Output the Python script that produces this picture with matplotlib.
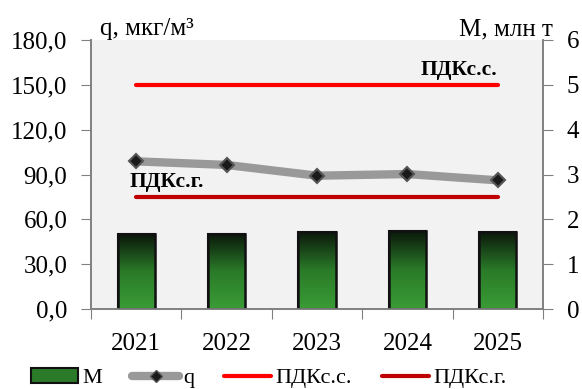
import matplotlib
matplotlib.use("Agg")
import matplotlib.pyplot as plt
import numpy as np
from matplotlib.lines import Line2D
from matplotlib.patches import Patch
from matplotlib.colors import LinearSegmentedColormap

years = ["2021", "2022", "2023", "2024", "2025"]
M_values = [1.67, 1.68, 1.72, 1.74, 1.72]
q_values = [98.8, 96.4, 89.2, 90.3, 86.1]
pdk_ss = [150.0] * 5
pdk_sg = [75.0] * 5
left_ticks = [0, 30, 60, 90, 120, 150, 180]
right_ticks = [0, 1, 2, 3, 4, 5, 6]

plt.rcParams['font.family'] = ['Liberation Serif', 'DejaVu Serif']

fig = plt.figure(figsize=(5.82, 3.89), dpi=100)
ax = fig.add_axes([91/582, 1-309/389, (543-91)/582, (309-40)/389])
ax2 = ax.twinx()
ax.set_zorder(2)
ax.patch.set_visible(False)
ax2.set_zorder(1)
ax2.patch.set_facecolor('#F2F2F2')
ax2.patch.set_visible(True)

x = np.arange(len(years))

bars = ax2.bar(x, M_values, width=0.41, color='#2a7a2a', edgecolor='#111111', linewidth=1.5, zorder=2)
cmap = LinearSegmentedColormap.from_list('g', ['#3a9c35', '#2a7a28', '#0a160a'])
grad = np.linspace(0, 1, 256).reshape(-1, 1)
for b in bars:
    x0, y0 = b.get_x(), b.get_y()
    w, h = b.get_width(), b.get_height()
    im = ax2.imshow(grad, cmap=cmap, aspect='auto', origin='lower',
                    extent=[x0, x0 + w, y0, y0 + h], zorder=2.5)
    im.set_clip_path(b)
    ax2.bar(x0 + w/2, h, width=w, fill=False, edgecolor='#111111', linewidth=1.8, zorder=3)

ax.plot(x, pdk_ss, color='#FF0000', linewidth=3, solid_capstyle='round', zorder=3)
ax.plot(x, pdk_sg, color='#C00000', linewidth=3, solid_capstyle='round', zorder=3)
ax.plot(x, q_values, color='#999999', linewidth=6, solid_capstyle='round', zorder=4,
        marker='D', markersize=7, markerfacecolor='#1a1a1a', markeredgecolor='#555555', markeredgewidth=1.5)

ax.text(4, 150 + 3.5, 'ПДКс.с.', ha='right', va='bottom', fontsize=15.5, fontweight='bold', zorder=5)
ax.text(-0.07, 75 + 3.5, 'ПДКс.г.', ha='left', va='bottom', fontsize=15.5, fontweight='bold', zorder=5)

ax.set_xlim(-0.5, 4.5)
ax.set_ylim(0, 180)
ax2.set_ylim(0, 6)
ax.set_yticks(left_ticks)
ax.set_yticklabels([f"{v:.1f}".replace('.', ',') for v in left_ticks], fontsize=18)
ax2.set_yticks(right_ticks)
ax2.set_yticklabels([str(v) for v in right_ticks], fontsize=18)

ax.set_xticks(np.arange(-0.5, 5, 1.0))
ax.set_xticklabels([])
ax.set_xticks(x, minor=True)
ax.set_xticklabels(years, minor=True, fontsize=18)
ax.tick_params(axis='x', which='minor', length=0, pad=17)
ax.tick_params(axis='x', which='major', length=7, color='#808080', direction='out')
ax.tick_params(axis='y', length=7, color='#808080', direction='out', pad=10)
ax2.tick_params(axis='y', length=7, color='#808080', direction='out', pad=10)

for a in (ax, ax2):
    a.spines['top'].set_visible(False)
    for s in ('left', 'right', 'bottom'):
        a.spines[s].set_color('#808080')
        a.spines[s].set_linewidth(1.2)

fig.text(100/582, 1-35/389, 'q, мкг/м³', fontsize=18, ha='left', va='baseline')
fig.text(553/582, 1-35/389, 'M, млн т', fontsize=18, ha='right', va='baseline')

handles = [
    Patch(facecolor='#2a7a2a', edgecolor='#111111', linewidth=1.5),
    Line2D([], [], color='#999999', linewidth=6, solid_capstyle='round', marker='D', markersize=6,
           markerfacecolor='#1a1a1a', markeredgecolor='#555555'),
    Line2D([], [], color='#FF0000', linewidth=3, solid_capstyle='round'),
    Line2D([], [], color='#C00000', linewidth=3, solid_capstyle='round'),
]
labels = ['M', 'q', 'ПДКс.с.', 'ПДКс.г.']
fig.legend(handles, labels, loc='center', bbox_to_anchor=(0.462, 1-378/389), ncol=4, frameon=False,
           fontsize=16, handlelength=2.1, handletextpad=0.2, columnspacing=1.35, handleheight=0.7,
           borderpad=0.1)

fig.savefig('out.png', dpi=100)
